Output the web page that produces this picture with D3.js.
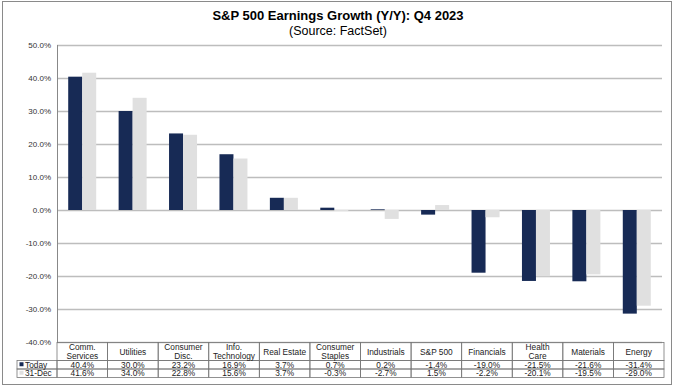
<!DOCTYPE html>
<html>
<head>
<meta charset="utf-8">
<script src="https://cdn.jsdelivr.net/npm/d3@7"></script>
<style>
  body { margin: 0; background: #fff; }
  svg { display: block; font-family: Arial, "Liberation Sans", sans-serif; }
</style>
</head>
<body>
<svg id="chart"></svg>
<script>
// --- data ---
const categories = [
  ["Comm.", "Services"], ["Utilities"], ["Consumer", "Disc."], ["Info.", "Technology"],
  ["Real Estate"], ["Consumer", "Staples"], ["Industrials"], ["S&P 500"],
  ["Financials"], ["Health", "Care"], ["Materials"], ["Energy"]
];
const today = [40.4, 30.0, 23.2, 16.9, 3.7, 0.7, 0.2, -1.4, -19.0, -21.5, -21.6, -31.4];
const dec31 = [41.6, 34.0, 22.8, 15.6, 3.7, -0.3, -2.7, 1.5, -2.2, -20.1, -19.5, -29.0];
const seriesNames = ["Today", "31-Dec"];
const yTicks = [50, 40, 30, 20, 10, 0, -10, -20, -30, -40];

const width = 675, height = 387;
const colors = ["#172a55", "#e0e0e0"];
const plotL = 57, plotR = 662, plotT = 45, plotB = 342;

// plain hyphen for negatives, like the original
const pct = d3.formatLocale({ decimal: ".", thousands: ",", grouping: [3], currency: ["", ""], minus: "-" })
  .format(".1f");

const svg = d3.select("#chart").attr("width", width).attr("height", height);

// outer frame
svg.append("rect")
  .attr("x", 2.5).attr("y", 1.5).attr("width", 669).attr("height", 383)
  .attr("fill", "none").attr("stroke", "#8a8a8a").attr("stroke-width", 1);

// titles
svg.append("text").attr("x", 338).attr("y", 20).attr("text-anchor", "middle")
  .attr("font-size", 13).attr("font-weight", "bold").attr("fill", "#000")
  .text("S&P 500 Earnings Growth (Y/Y): Q4 2023");
svg.append("text").attr("x", 338).attr("y", 35).attr("text-anchor", "middle")
  .attr("font-size", 12.5).attr("fill", "#000")
  .text("(Source: FactSet)");

// scales
const keys = categories.map((c, i) => i);
const x = d3.scaleBand().domain(keys).range([plotL, plotR]);
const y = d3.scaleLinear().domain([-40, 50]).range([plotB, plotT]);

// gridlines
svg.append("g")
  .selectAll("line").data(yTicks).join("line")
  .attr("x1", plotL).attr("x2", plotR)
  .attr("y1", d => Math.round(y(d)) + 0.5).attr("y2", d => Math.round(y(d)) + 0.5)
  .attr("stroke", "#bdbdbd").attr("stroke-width", 1.5);

// y axis labels
const yAxis = d3.axisLeft(y).tickValues(yTicks).tickSize(0).tickPadding(6)
  .tickFormat(d => pct(d) + "%");
const ga = svg.append("g").attr("transform", `translate(${plotL},0)`).call(yAxis);
ga.select(".domain").remove();
ga.selectAll("text").attr("font-size", 8).attr("fill", "#333")
  .attr("font-family", "Arial, 'Liberation Sans', sans-serif");

// bars
const series = [today, dec31];
const bw = 14;
series.forEach((vals, s) => {
  svg.append("g").selectAll("rect").data(vals).join("rect")
    .attr("x", (d, i) => x(i) + x.bandwidth() / 2 - bw + s * bw)
    .attr("width", bw)
    .attr("y", d => y(Math.max(0, d)))
    .attr("height", d => Math.abs(y(d) - y(0)))
    .attr("fill", colors[s]);
});

// axis line
svg.append("line").attr("x1", plotL + 0.5).attr("x2", plotL + 0.5)
  .attr("y1", plotT).attr("y2", plotB + 1)
  .attr("stroke", "#888").attr("stroke-width", 1);

// data table
const tTop = 342.5, hH = 18, rH = 8.5, labLeft = 17, tRight = 664;
const colW = (tRight - plotL) / categories.length;
const table = svg.append("g").attr("fill", "none").attr("stroke", "#777").attr("stroke-width", 0.8);

table.selectAll(".hc").data(categories).join("rect")
  .attr("x", (d, i) => plotL + i * colW).attr("y", tTop)
  .attr("width", colW).attr("height", hH);
series.forEach((vals, s) => {
  table.append("rect").attr("x", labLeft).attr("y", tTop + hH + s * rH)
    .attr("width", plotL - labLeft).attr("height", rH);
  table.selectAll(".r" + s).data(vals).join("rect")
    .attr("x", (d, i) => plotL + i * colW).attr("y", tTop + hH + s * rH)
    .attr("width", colW).attr("height", rH);
});

const tt = svg.append("g").attr("font-size", 8.3).attr("fill", "#222").attr("text-anchor", "middle");
categories.forEach((c, i) => {
  const cx = plotL + (i + 0.5) * colW;
  const t = tt.append("text").attr("x", cx)
    .attr("y", tTop + hH / 2 + 3 - (c.length - 1) * 4.5);
  c.forEach((line, j) => {
    t.append("tspan").attr("x", cx).attr("dy", j === 0 ? 0 : 9).text(line);
  });
});
series.forEach((vals, s) => {
  const rowY = tTop + hH + s * rH + rH / 2 + 3;
  vals.forEach((v, i) => {
    tt.append("text").attr("x", plotL + (i + 0.5) * colW).attr("y", rowY)
      .text(pct(v) + "%");
  });
  svg.append("rect").attr("x", labLeft + 2.5).attr("y", rowY - 5.5)
    .attr("width", 4).attr("height", 4).attr("fill", colors[s]);
  svg.append("text").attr("x", labLeft + 8).attr("y", rowY)
    .attr("font-size", 8.3).attr("fill", "#222").text(seriesNames[s]);
});
</script>
</body>
</html>
